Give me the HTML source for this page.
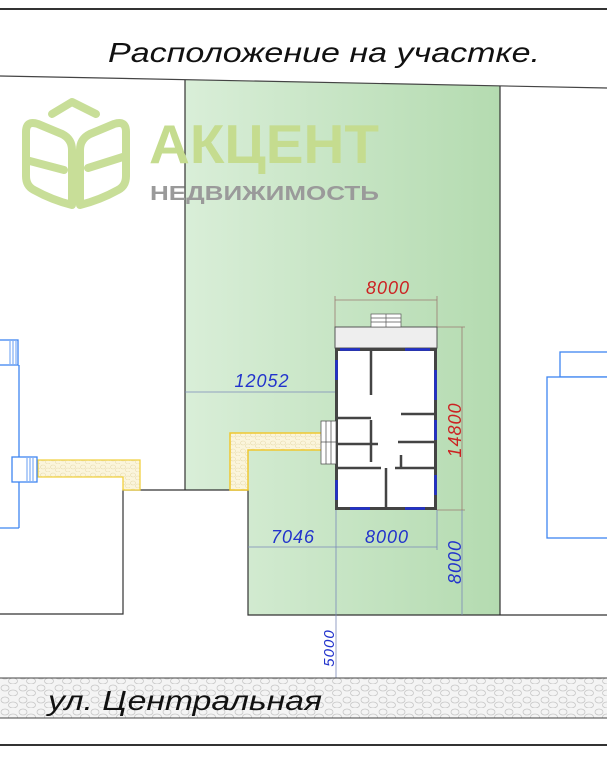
<!DOCTYPE html>
<html><head><meta charset="utf-8"><style>
html,body{margin:0;padding:0;background:#fff}
svg{display:block}
text{font-family:"Liberation Sans","DejaVu Sans",sans-serif}
</style></head><body>
<svg width="607" height="759" viewBox="0 0 607 759" xmlns="http://www.w3.org/2000/svg">
<defs>
<linearGradient id="g" x1="0" x2="1" y1="0" y2="0">
<stop offset="0" stop-color="#d9eed8"/><stop offset="1" stop-color="#b4dbb0"/>
</linearGradient>
<pattern id="stone" width="18" height="12" patternUnits="userSpaceOnUse">
<rect width="18" height="12" fill="#f4f4f4"/>
<ellipse cx="5" cy="4" rx="4" ry="3" fill="none" stroke="#c8c8c8" stroke-width="0.8"/>
<ellipse cx="13" cy="9" rx="4.5" ry="3" fill="none" stroke="#c8c8c8" stroke-width="0.8"/>
</pattern>
<pattern id="ystone" width="10" height="8" patternUnits="userSpaceOnUse">
<rect width="10" height="8" fill="#fbf5dc"/>
<ellipse cx="3" cy="3" rx="2.5" ry="2" fill="none" stroke="#e8dcae" stroke-width="0.6"/>
<ellipse cx="8" cy="6" rx="2.5" ry="2" fill="none" stroke="#e8dcae" stroke-width="0.6"/>
</pattern>
</defs>
<line x1="0" y1="9" x2="607" y2="9" stroke="#333" stroke-width="2"/>
<text x="108" y="62" font-size="28" font-style="italic" fill="#111" textLength="432" lengthAdjust="spacingAndGlyphs">Расположение на участке.</text>
<path d="M185,80 L500,86 L500,615 L248,615 L248,490 L185,490 Z" fill="url(#g)"/>
<line x1="0" y1="76" x2="607" y2="88" stroke="#444" stroke-width="1.2"/>
<line x1="185" y1="80" x2="185" y2="490" stroke="#333" stroke-width="1.2"/>
<line x1="500" y1="86" x2="500" y2="615" stroke="#333" stroke-width="1.2"/>
<polyline points="0,614 123,614 123,490 248,490 248,615 607,615" fill="none" stroke="#333" stroke-width="1.2"/>
<g fill="none" stroke="#c8de98" stroke-width="8" stroke-linejoin="round" stroke-linecap="round">
<path d="M52,114 L72,102 L96,114"/>
<path d="M26,132 Q26,120 38,124 L62,134 Q72,139 72,150 L72,205 Q52,200 34,190 Q26,186 26,176 Z"/>
<path d="M26,160 L64,170"/>
<path d="M126,132 Q126,120 114,124 L90,134 Q80,139 80,150 L80,205 Q100,200 118,190 Q126,186 126,176 Z"/>
<path d="M88,168 L126,156"/>
</g>
<text x="149" y="163" font-size="55" font-weight="bold" fill="#c5dc8f" textLength="230" lengthAdjust="spacingAndGlyphs">АКЦЕНТ</text>
<text x="150" y="200" font-size="20" font-weight="bold" fill="#9a9a9a" textLength="229" lengthAdjust="spacingAndGlyphs">НЕДВИЖИМОСТЬ</text>
<path d="M38,460 L140,460 L140,490 L123,490 L123,477 L38,477 Z" fill="url(#ystone)" stroke="#f0d040" stroke-width="1.3"/>
<path d="M335,433 L230,433 L230,490 L248,490 L248,450 L335,450 Z" fill="url(#ystone)" stroke="#f0c830" stroke-width="1.5"/>
<g fill="#fff" stroke="#3f86f0" stroke-width="1.3">
<line x1="19" y1="365" x2="19" y2="528"/>
<line x1="0" y1="528" x2="19" y2="528"/>
<rect x="-2" y="340" width="20" height="25"/>
<rect x="12" y="457" width="25" height="25"/>
</g>
<g stroke="#3f86f0" stroke-width="0.8"><line x1="10" y1="341" x2="10" y2="364"/><line x1="13" y1="341" x2="13" y2="364"/><line x1="16" y1="341" x2="16" y2="364"/>
<line x1="27" y1="458" x2="27" y2="481"/><line x1="30" y1="458" x2="30" y2="481"/><line x1="33" y1="458" x2="33" y2="481"/></g>
<g fill="#fff" stroke="#3f86f0" stroke-width="1.3">
<rect x="560" y="352" width="50" height="25"/>
<rect x="547" y="377" width="63" height="161"/>
</g>
<g stroke="#9a7a70" stroke-width="0.8" fill="none">
<line x1="335" y1="300" x2="437" y2="300"/><line x1="335" y1="296" x2="335" y2="330"/><line x1="437" y1="296" x2="437" y2="330"/>
<line x1="437" y1="327" x2="465" y2="327"/><line x1="437" y1="510" x2="465" y2="510"/><line x1="462" y1="327" x2="462" y2="510"/>
</g>
<g stroke="#7a88b8" stroke-width="0.8" fill="none">
<line x1="185" y1="392" x2="335" y2="392"/>
<line x1="248" y1="547" x2="437" y2="547"/>
<line x1="336" y1="510" x2="336" y2="680"/>
<line x1="437" y1="510" x2="437" y2="550"/>
<line x1="462" y1="510" x2="462" y2="615"/>
</g>
<g font-style="italic" font-size="18" letter-spacing="1">
<text x="388" y="300" text-anchor="middle" fill="#c22" dy="-6">8000</text>
<text x="262" y="387" text-anchor="middle" fill="#2233cc">12052</text>
<text x="293" y="543" text-anchor="middle" fill="#2233cc">7046</text>
<text x="387" y="543" text-anchor="middle" fill="#2233cc">8000</text>
<text transform="translate(461,430) rotate(-90)" text-anchor="middle" fill="#c22">14800</text>
<text transform="translate(461,562) rotate(-90)" text-anchor="middle" fill="#2233cc">8000</text>
<text transform="translate(334,648) rotate(-90)" text-anchor="middle" fill="#2233cc" font-size="15">5000</text>
</g>
<rect x="335" y="327" width="102" height="21" fill="#eeeeee" stroke="#555" stroke-width="1"/>
<g stroke="#555" stroke-width="0.7" fill="#fff"><rect x="371" y="314" width="30" height="13"/>
<line x1="371" y1="318" x2="401" y2="318"/><line x1="371" y1="322" x2="401" y2="322"/><line x1="386" y1="314" x2="386" y2="327"/></g>
<rect x="336.5" y="349.5" width="99" height="159" fill="#fff" stroke="#444" stroke-width="3"/>
<g stroke="#444" stroke-width="2.5" fill="none">
<line x1="371" y1="350" x2="371" y2="395"/><line x1="338" y1="418" x2="371" y2="418"/>
<line x1="371" y1="420" x2="371" y2="462"/><line x1="338" y1="444" x2="378" y2="444"/>
<line x1="401" y1="414" x2="435" y2="414"/><line x1="398" y1="442" x2="435" y2="442"/>
<line x1="401" y1="455" x2="401" y2="468"/><line x1="338" y1="468" x2="381" y2="468"/><line x1="395" y1="468" x2="435" y2="468"/>
<line x1="386" y1="468" x2="386" y2="508"/>
</g>
<g stroke="#2030d0" stroke-width="2.5">
<line x1="336.5" y1="360" x2="336.5" y2="380"/><line x1="435.5" y1="370" x2="435.5" y2="400"/><line x1="435.5" y1="420" x2="435.5" y2="440"/>
<line x1="435.5" y1="475" x2="435.5" y2="495"/><line x1="336.5" y1="480" x2="336.5" y2="500"/><line x1="350" y1="508.5" x2="370" y2="508.5"/><line x1="405" y1="508.5" x2="425" y2="508.5"/>
<line x1="405" y1="349.5" x2="430" y2="349.5"/><line x1="340" y1="349.5" x2="360" y2="349.5"/>
</g>
<g stroke="#444" stroke-width="0.7" fill="#fff"><rect x="321" y="421" width="15" height="43"/>
<line x1="326" y1="421" x2="326" y2="464"/><line x1="331" y1="421" x2="331" y2="464"/><line x1="321" y1="442" x2="336" y2="442"/></g>
<rect x="0" y="678" width="607" height="40" fill="url(#stone)"/>
<line x1="0" y1="678" x2="607" y2="678" stroke="#444" stroke-width="1"/>
<line x1="0" y1="718" x2="607" y2="718" stroke="#444" stroke-width="1"/>
<text x="48" y="710" font-size="28" font-style="italic" fill="#111" textLength="274" lengthAdjust="spacingAndGlyphs">ул. Центральная</text>
<line x1="0" y1="745" x2="607" y2="745" stroke="#333" stroke-width="2"/>
</svg>
</body></html>
